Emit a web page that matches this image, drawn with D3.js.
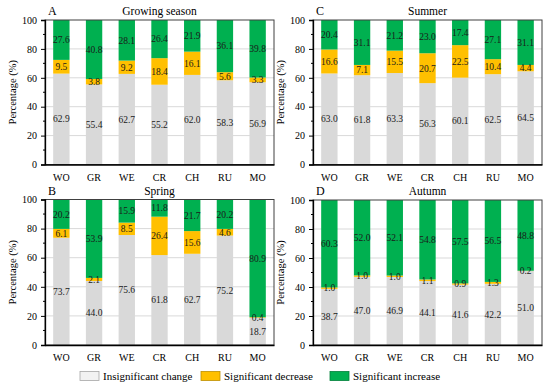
<!DOCTYPE html>
<html>
<head>
<meta charset="utf-8">
<script src="https://cdn.jsdelivr.net/npm/d3@7"></script>
<style>
	body { margin: 0; background: #fff; }
	svg text { font-family: "Liberation Serif", "Times New Roman", serif; }
</style>
</head>
<body>
<div id="content"></div>
<script>
var sites = ["WO", "GR", "WE", "CR", "CH", "RU", "MO"];
var yTicks = [0, 20, 40, 60, 80, 100];
var seriesNames = ["Insignificant change", "Significant decrease", "Significant increase"];

// growing season
var growInsig = [62.9, 55.4, 62.7, 55.2, 62.0, 58.3, 56.9];
var growDec   = [9.5, 3.8, 9.2, 18.4, 16.1, 5.6, 3.3];
var growInc   = [27.6, 40.8, 28.1, 26.4, 21.9, 36.1, 39.8];

// spring
var springInsig = [73.7, 44.0, 75.6, 61.8, 62.7, 75.2, 18.7];
var springDec   = [6.1, 2.1, 8.5, 26.4, 15.6, 4.6, 0.4];
var springInc   = [20.2, 53.9, 15.9, 11.8, 21.7, 20.2, 80.9];

// summer
var summerInsig = [63.0, 61.8, 63.3, 56.3, 60.1, 62.5, 64.5];
var summerDec   = [16.6, 7.1, 15.5, 20.7, 22.5, 10.4, 4.4];
var summerInc   = [20.4, 31.1, 21.2, 23.0, 17.4, 27.1, 31.1];

// autumn
var autumnInsig = [38.7, 47.0, 46.9, 44.1, 41.6, 42.2, 51.0];
var autumnDec   = [1.0, 1.0, 1.0, 1.1, 0.9, 1.3, 0.2];
var autumnInc   = [60.3, 52.0, 52.1, 54.8, 57.5, 56.5, 48.8];

var colors = ["#d9d9d9", "#ffc000", "#00b050"];
var FONT = "Liberation Serif";

var panels = [
	{ letter: "A", title: "Growing season", x: 45, y: 20, h: 144.5, data: [growInsig, growDec, growInc] },
	{ letter: "C", title: "Summer", x: 313, y: 20, h: 144.5, data: [summerInsig, summerDec, summerInc] },
	{ letter: "B", title: "Spring", x: 45, y: 199.5, h: 145.5, data: [springInsig, springDec, springInc] },
	{ letter: "D", title: "Autumn", x: 313, y: 200, h: 145, data: [autumnInsig, autumnDec, autumnInc] }
];
var panelW = 229;

var svg = d3.select("#content").append("svg")
	.attr("width", 550).attr("height", 388)
	.attr("font-family", FONT);

var drawPanel = function (p) {
	var g = svg.append("g").attr("transform", "translate(" + p.x + "," + p.y + ")");

	var x = d3.scaleBand().domain(sites).range([0, panelW])
		.paddingInner(0.5).paddingOuter(0.25);
	var y = d3.scaleLinear().domain([0, 100]).range([p.h, 0]);

	// gridlines
	g.selectAll("line.grid").data([20, 40, 60, 80]).enter()
		.append("line").attr("class", "grid")
		.attr("x1", 0).attr("x2", panelW)
		.attr("y1", function (d) { return y(d); })
		.attr("y2", function (d) { return y(d); })
		.attr("stroke", "#d9d9d9").attr("stroke-width", 1);

	// stack rows
	var rows = sites.map(function (s, i) {
		var r = { site: s };
		seriesNames.forEach(function (n, k) { r[n] = p.data[k][i]; });
		return r;
	});
	var stacked = d3.stack().keys(seriesNames)(rows);

	var layer = g.selectAll("g.layer").data(stacked).enter()
		.append("g").attr("class", "layer")
		.attr("fill", function (d, i) { return colors[i]; });

	layer.selectAll("rect").data(function (d) { return d; }).enter()
		.append("rect")
		.attr("x", function (d) { return x(d.data.site); })
		.attr("width", x.bandwidth())
		.attr("y", function (d) { return y(d[1]); })
		.attr("height", function (d) { return y(d[0]) - y(d[1]); });

	// value labels
	stacked.forEach(function (s) {
		g.selectAll(null).data(s).enter()
			.append("text")
			.attr("x", function (d) { return x(d.data.site) + x.bandwidth() / 2; })
			.attr("y", function (d) { return y((d[0] + d[1]) / 2); })
			.attr("dy", "0.35em")
			.attr("text-anchor", "middle")
			.attr("font-family", FONT)
			.attr("font-size", 9.5)
			.attr("fill", "#1a1a1a")
			.text(function (d) { return (d[1] - d[0]).toFixed(1); });
	});

	// frame
	g.append("rect").attr("x", 0).attr("y", 0)
		.attr("width", panelW).attr("height", p.h)
		.attr("fill", "none").attr("stroke", "#404040").attr("stroke-width", 1);

	// y axis
	var yAxis = g.append("g")
		.call(d3.axisLeft(y).tickValues(yTicks).tickSize(4).tickPadding(4).tickFormat(d3.format("d")));
	yAxis.attr("font-family", FONT);
	yAxis.selectAll("text").attr("font-size", 10).attr("fill", "#000");
	yAxis.select(".domain").attr("stroke", "#000").attr("stroke-width", 1.3);

	g.selectAll("line.minor").data([10, 30, 50, 70, 90]).enter()
		.append("line").attr("class", "minor")
		.attr("x1", -2).attr("x2", 0)
		.attr("y1", function (d) { return y(d); })
		.attr("y2", function (d) { return y(d); })
		.attr("stroke", "#000");

	// x axis
	var xAxis = g.append("g").attr("transform", "translate(0," + p.h + ")")
		.call(d3.axisBottom(x).tickSize(0).tickPadding(9));
	xAxis.attr("font-family", FONT);
	xAxis.selectAll("text").attr("font-size", 10).attr("fill", "#000");
	xAxis.select(".domain").attr("stroke", "#000").attr("stroke-width", 1.3);

	// titles
	g.append("text").attr("x", 3).attr("y", -5)
		.attr("font-size", 12).text(p.letter);
	g.append("text").attr("x", panelW / 2).attr("y", -5)
		.attr("text-anchor", "middle").attr("font-size", 11.5).text(p.title);

	g.append("text")
		.attr("transform", "translate(" + (-29) + "," + (p.h / 2) + ") rotate(-90)")
		.attr("text-anchor", "middle").attr("font-size", 10.5)
		.text("Percentage (%)");
};

panels.forEach(drawPanel);

// legend
var legendX = [80, 201, 330];
var legendFill = ["#f2f2f2", "#ffc000", "#00b050"];
var legendStroke = ["#a6a6a6", "#bf9000", "#00803a"];
var legend = svg.append("g");
seriesNames.forEach(function (n, i) {
	legend.append("rect")
		.attr("x", legendX[i]).attr("y", 371.5)
		.attr("width", 19).attr("height", 9)
		.attr("fill", legendFill[i]).attr("stroke", legendStroke[i]).attr("stroke-width", 0.8);
	legend.append("text")
		.attr("x", legendX[i] + 23).attr("y", 380)
		.attr("font-size", 11).text(n);
});
</script>
</body>
</html>
